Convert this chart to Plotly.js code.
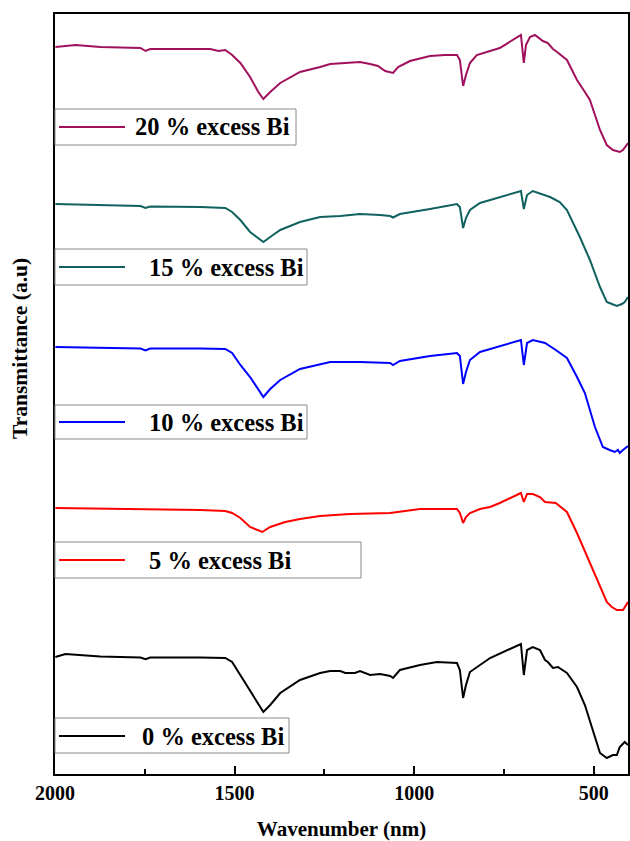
<!DOCTYPE html>
<html>
<head>
<meta charset="utf-8">
<script src="https://cdn.plot.ly/plotly-3.0.1.min.js"></script>
<style>html,body{margin:0;padding:0;background:#fff;}#chart{width:630px;height:841px;}</style>
</head>
<body>
<div id="chart"></div>
<script>
// ---- Data (wavenumber, transmittance in arbitrary stacked units) ----
var seriesNames = ['0 % excess Bi', '5 % excess Bi', '10 % excess Bi', '15 % excess Bi', '20 % excess Bi'];

var wn20 = [1999,1943,1874,1762,1748,1735,1651,1568,1545,1526,1507,1484,1457,1434,1420,1401,1373,1318,1262,1234,1192,1151,1123,1101,1081,1067,1059,1045,1012,956,915,881,873,864,856,845,826,762,703,695,689,678,664,642,628,614,606,575,547,525,511,483,464,447,428,419,411,405];
var t20  = [728,730,728,727,724,726,726,726,724,725,720,712,698,683,676,683,692,703,708,711,712,713,711,709,704,703,702,708,714,719,720,720,715,689,700,712,720,727,740,712,730,738,740,734,732,726,724,715,695,683,675,645,630,625,623,625,629,632];

var wn15 = [1999,1874,1762,1748,1735,1596,1526,1507,1484,1457,1420,1401,1373,1318,1262,1206,1151,1095,1067,1059,1040,956,881,873,864,856,845,817,703,695,686,670,622,595,575,539,511,483,464,450,436,422,414,405];
var t15  = [571,570,569,567,568.5,568,567,563,555,543,533,538,545,553,558,559,561,560,559,557.5,561,566,571,568,547,557,565,572,584,566,580,584,578,573,565,538,515,488,473,471,469,471,473,478];

var wn10 = [1999,1874,1762,1748,1735,1596,1526,1507,1484,1457,1420,1401,1373,1318,1262,1234,1151,1095,1067,1059,1040,956,881,873,864,856,845,817,703,695,686,670,636,606,575,547,525,497,475,456,442,433,428,419,405];
var t10  = [428,427.5,426.5,424.5,426.5,426.5,426,422,410,398,378,386,395,406,411,413,413,412,412,410,414,419,422,419,391,403,415,423,435,410,432,435,432,425,417,398,382,348,328,325,323,325,322,325,329];

var wn5 = [1999,1874,1748,1596,1526,1507,1484,1457,1423,1401,1359,1318,1262,1179,1067,984,881,873,864,856,845,817,789,762,703,695,686,670,650,636,606,575,547,511,483,464,450,436,419,405];
var t5  = [267,266.5,265.5,265,264,262,257,248,243,248,253,256,259,261,262,266,266,262,252,258,262,266,268,272,282,273,281,281,278,273,272,263,242,212,188,173,168,165,165,173];

var wn0 = [1999,1971,1874,1762,1748,1735,1596,1526,1507,1484,1457,1420,1401,1373,1318,1262,1234,1206,1192,1165,1151,1123,1095,1067,1059,1040,984,937,881,873,864,856,845,817,789,703,695,686,670,650,636,628,614,600,575,547,525,497,483,464,447,436,428,414,405];
var t0  = [118,121,118.5,117.5,115.7,117.5,117.5,117,113,100,85,63,70,82,95,102,104,104,102,102,104,100,101,99,97,105,110,113,112,105,77,90,103,110,117,131,100,125,128,125,115,113,107,108,102,88,70,38,22,17,20,20,28,33,30];

var colors = ['#000000', '#ff0000', '#0000ff', '#10625e', '#a0105c'];

var xTickVals = [2000, 1500, 1000, 500];
var xTickText = ['2000', '1500', '1000', '500'];

// ---- Layout geometry (pixels) ----
var W = 630, H = 841;
var M = {l: 55, r: 2, t: 14, b: 67};
var PW = W - M.l - M.r, PH = H - M.t - M.b;
function px(x) { return (x - M.l) / PW; }
function py(y) { return (H - M.b - y) / PH; }

var serif = 'Liberation Serif, Times New Roman, serif';

var xs = [wn0, wn5, wn10, wn15, wn20];
var ys = [t0, t5, t10, t15, t20];
var traces = [];
for (var i = 0; i < 5; i++) {
  traces.push({
    x: xs[i], y: ys[i], type: 'scatter', mode: 'lines',
    name: seriesNames[i], showlegend: false,
    line: {color: colors[i], width: 2}
  });
}

// legend boxes: [left, top, right, bottom, lineY, textLeft]
var boxes = [
  [55, 718, 289, 753, 736, 140],
  [55, 542, 361, 578, 560, 147],
  [55, 405, 307, 439, 422, 147],
  [55, 249, 307, 285, 267, 147],
  [55, 109, 296, 145, 127, 133]
];
var shapes = [], annotations = [];
for (var k = 0; k < 5; k++) {
  var b = boxes[k];
  shapes.push({type: 'rect', xref: 'paper', yref: 'paper', x0: px(b[0]), x1: px(b[2]), y0: py(b[3]), y1: py(b[1]),
    line: {color: '#8a8a8a', width: 1}, fillcolor: 'rgba(0,0,0,0)', layer: 'above'});
  shapes.push({type: 'line', xref: 'paper', yref: 'paper', x0: px(59), x1: px(125), y0: py(b[4]), y1: py(b[4]),
    line: {color: colors[k], width: 2}, layer: 'above'});
  annotations.push({xref: 'paper', yref: 'paper', x: px(b[5]), y: py(b[4]), xanchor: 'left', yanchor: 'middle',
    text: seriesNames[k], showarrow: false, font: {family: serif, size: 24.5, color: '#000', weight: 'bold'}});
}
annotations.push({xref: 'paper', yref: 'paper', x: px(20), y: py(349), xanchor: 'center', yanchor: 'middle',
  text: 'Transmittance (a.u)', textangle: -90, showarrow: false,
  font: {family: serif, size: 21.5, color: '#000', weight: 'bold'}});

var layout = {
  width: W, height: H,
  margin: M,
  paper_bgcolor: '#fff', plot_bgcolor: '#fff',
  showlegend: false,
  xaxis: {
    range: [2000, 405], showgrid: false, zeroline: false,
    showline: true, linecolor: '#000', linewidth: 2, mirror: true,
    ticks: 'inside', ticklen: 8, tickwidth: 2, tickcolor: '#000',
    tickmode: 'array', tickvals: xTickVals, ticktext: xTickText,
    minor: {tickmode: 'array', tickvals: [1750, 1250, 750], ticks: 'inside', ticklen: 5, tickwidth: 2, tickcolor: '#000'},
    tickfont: {family: serif, size: 20, color: '#000', weight: 'bold'},
    title: {text: 'Wavenumber (nm)', standoff: 22, font: {family: serif, size: 21, color: '#000', weight: 'bold'}}
  },
  yaxis: {
    range: [1, 761], showgrid: false, zeroline: false,
    showline: true, linecolor: '#000', linewidth: 2, mirror: true,
    ticks: '', showticklabels: false
  },
  shapes: shapes,
  annotations: annotations
};

Plotly.newPlot('chart', traces, layout, {displayModeBar: false, staticPlot: true});
</script>
</body>
</html>
